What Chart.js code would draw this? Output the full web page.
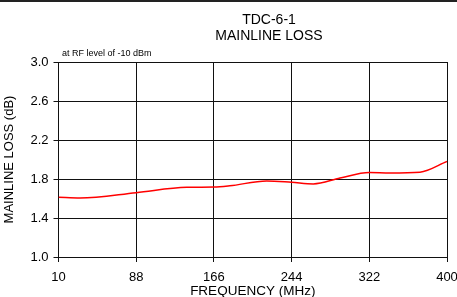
<!DOCTYPE html>
<html><head><meta charset="utf-8">
<script src="https://cdn.jsdelivr.net/npm/chart.js@4/dist/chart.umd.min.js"></script>
<style>html,body{margin:0;padding:0;background:#fff}#wrap{width:457px;height:297px;position:relative}</style>
</head><body><div id="wrap"><canvas id="c" width="457" height="297"></canvas></div>
<script>
const freqMHz = [10, 31.6, 88, 138.7, 166, 182, 219, 244, 265.8, 292.6, 322, 342.8, 372.9, 400];
const lossDb = [1.612, 1.605, 1.66, 1.715, 1.717, 1.73, 1.78, 1.766, 1.75, 1.81, 1.866, 1.862, 1.87, 1.98];
const xTicks = [10, 88, 166, 244, 322, 400];
const yTicks = [1.0, 1.4, 1.8, 2.2, 2.6, 3.0];
const titleLines = ["TDC-6-1", "MAINLINE LOSS"];
const noteText = "at RF level of -10 dBm";
const xTitle = "FREQUENCY (MHz)";
const yTitle = "MAINLINE LOSS (dB)";

const FONT = "'Liberation Sans', Arial, sans-serif";
const decor = {
  id: 'decor',
  afterDraw(chart) {
    const ctx = chart.ctx;
    ctx.save();
    ctx.fillStyle = '#222';
    ctx.fillRect(0, 0, 457, 2);
    ctx.fillStyle = '#000';
    ctx.textAlign = 'center';
    ctx.textBaseline = 'middle';
    ctx.font = "14px " + FONT;
    ctx.fillText(titleLines[0], 269, 20);
    ctx.fillText(titleLines[1], 269, 36);
    ctx.font = "9px " + FONT;
    ctx.textAlign = 'left';
    ctx.fillText(noteText, 62, 54);
    ctx.restore();
  }
};

new Chart(document.getElementById('c'), {
  type: 'line',
  data: { datasets: [{ data: freqMHz.map((f, i) => ({x: f, y: lossDb[i]})), borderColor: '#ff0000', borderWidth: 1.5, pointRadius: 0, cubicInterpolationMode: 'monotone', fill: false }] },
  options: {
    animation: false, responsive: false, devicePixelRatio: 1,
    layout: { padding: { left: 0, right: 10, top: 62, bottom: 0 } },
    plugins: { legend: { display: false }, tooltip: { enabled: false }, title: { display: false } },
    scales: {
      x: {
        type: 'linear', min: 10, max: 400,
        afterBuildTicks(s) { s.ticks = xTicks.map(v => ({value: v})); },
        afterFit(s) { s.height = 40; s.paddingLeft = 0; s.paddingRight = 0; },
        grid: { color: '#111', lineWidth: 1, drawTicks: true, tickLength: 5, tickColor: '#111' },
        border: { color: '#111', width: 1 },
        ticks: { color: '#000', font: { family: FONT, size: 13 }, padding: 8, maxRotation: 0, autoSkip: false },
        title: { display: true, text: xTitle, color: '#000', font: { family: FONT, size: 13.5 }, padding: { top: 0, bottom: -2 } }
      },
      y: {
        min: 1.0, max: 3.0,
        afterBuildTicks(s) { s.ticks = yTicks.map(v => ({value: v})); },
        afterFit(s) { s.width = 58.5; s.paddingTop = 0; s.paddingBottom = 0; },
        grid: { color: '#111', lineWidth: 1, drawTicks: true, tickLength: 5, tickColor: '#111' },
        border: { color: '#111', width: 1 },
        ticks: { color: '#000', font: { family: FONT, size: 13 }, padding: 5, callback: v => v.toFixed(1) },
        title: { display: true, text: yTitle, color: '#000', font: { family: FONT, size: 13 }, padding: { top: 2, bottom: 0 } }
      }
    }
  },
  plugins: [decor]
});
</script></body></html>
